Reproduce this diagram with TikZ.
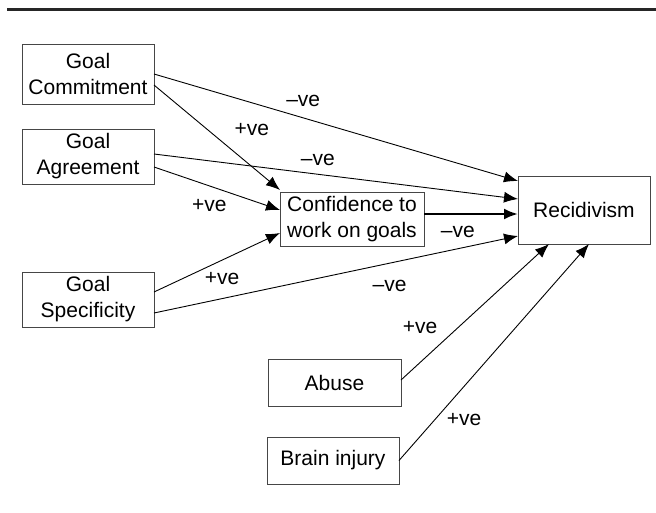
\documentclass[tikz,border=0pt]{standalone}
\usepackage{fontspec}
\setmainfont{Liberation Sans}
\usepackage{tikz}
\usetikzlibrary{arrows.meta,shapes,calc,positioning}
\definecolor{borde}{RGB}{70,70,70}
\tikzstyle{box}   =[draw=borde, line width=1pt, align=center,
                    inner sep=0pt, outer sep=0pt,
                    font=\fontsize{21}{26}\selectfont]
\tikzstyle{edge}  =[-{Latex[length=14pt,width=11pt]}, line width=0.9pt]
\tikzstyle{lbl}   =[inner sep=0pt, font=\fontsize{21}{26}\selectfont]

\begin{document}
\begin{tikzpicture}[x=1pt,y=-1pt]
    \useasboundingbox (0,0) rectangle (656,512);
    \draw[line width=2.6pt, black!85] (7,9.5) -- (656,9.5);

            \draw (88,74) node(gc)[box, minimum width=132pt, minimum height=60pt]{Goal\\Commitment};
            \draw (88,156.5) node(ga)[box, minimum width=132pt, minimum height=55pt]{Goal\\Agreement};
            \draw (88,299.5) node(gs)[box, minimum width=132pt, minimum height=55pt]{Goal\\Specificity};
            \draw (352,219) node(conf)[box, minimum width=144pt, minimum height=54pt]{Confidence to\\work on goals};
            \draw (584,210) node(rec)[box, minimum width=132pt, minimum height=68pt]{Recidivism};
            \draw (334.5,382.5) node(abuse)[box, minimum width=133pt, minimum height=47pt]{Abuse};
            \draw (333,460.5) node(brain)[box, minimum width=132pt, minimum height=47pt]{Brain injury};

            \draw [edge] (gc.east) -- ([yshift=29pt]rec.west)
                node[lbl, pos=0.41, yshift=17pt]{--ve};
            \draw [edge] ([yshift=-11pt]gc.east) -- ([yshift=2pt]conf.north west)
                node[lbl, pos=0.42, xshift=45pt]{+ve};
            \draw [edge] ([yshift=2.5pt]ga.east) -- ([yshift=11pt]rec.west)
                node[lbl, pos=0.45, yshift=14pt]{--ve};
            \draw [edge] ([yshift=-10.5pt]ga.east) -- ([yshift=9pt]conf.west)
                node[lbl, pos=0.44, yshift=-20pt]{+ve};
            \draw [edge, line width=2.4pt] ([yshift=5pt]conf.east) -- ([yshift=-4pt]rec.west)
                node[lbl, pos=0.36, yshift=-18pt]{--ve};
            \draw [edge] ([yshift=7.5pt]gs.east) -- ([yshift=-14pt]conf.west)
                node[lbl, pos=0.54, yshift=-18pt]{+ve};
            \draw [edge] ([yshift=-13.5pt]gs.east) -- ([yshift=-26pt]rec.west)
                node[lbl, pos=0.647, yshift=-23pt]{--ve};
            \draw [edge] ([yshift=2.5pt]abuse.east) -- ([xshift=-35pt]rec.south)
                node[lbl, pos=0.385, xshift=-38pt]{+ve};
            \draw [edge] (brain.east) -- ([xshift=5pt]rec.south)
                node[lbl, pos=0.19, xshift=29pt]{+ve};

    \end{tikzpicture}
\end{document}
